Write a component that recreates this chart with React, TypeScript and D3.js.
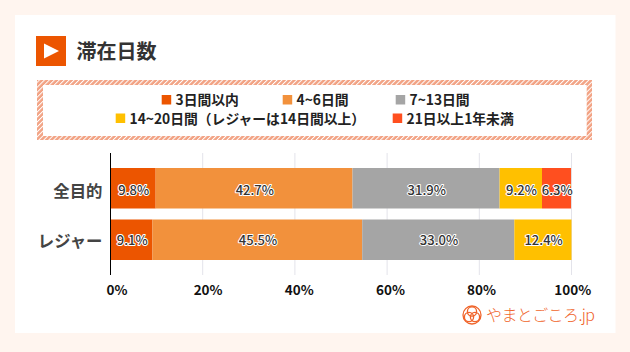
import React from "react";
import * as d3 from "d3";

const categories = ["全目的", "レジャー"];
const seriesNames = ["3日間以内", "4~6日間", "7~13日間", "14~20日間（レジャーは14日間以上）", "21日以上1年未満"];
const seriesColors = ["#ec5500", "#f2913c", "#a5a5a5", "#ffc000", "#ff4f1f"];
const allPurpose = [9.8, 42.7, 31.9, 9.2, 6.3];
const leisure = [9.1, 45.5, 33.0, 12.4, 0];
const rows = [allPurpose, leisure];
const ticks = [0, 20, 40, 60, 80, 100];
const FONT = "'Noto Sans CJK JP', 'Noto Sans', sans-serif";

export default function App() {
  const x = d3.scaleLinear().domain([0, 100]).range([110.5, 571.5]);
  const xLabel = d3.scaleLinear().domain([0, 100]).range([117, 572.7]);
  const y = d3.scaleBand().domain(categories).range([168, 260]).paddingInner(0.2136).paddingOuter(0);
  const yLabel = d3.scalePoint().domain(categories).range([190, 240]);
  const stack = d3.stack<number[]>().keys(d3.range(5).map(String)).value((d, k) => d[+k]);
  const stacked = stack(rows);
  const legend = [
    { i: 0, sx: 161.7, ty: 100 },
    { i: 1, sx: 282.7, ty: 100 },
    { i: 2, sx: 395.7, ty: 100 },
    { i: 3, sx: 115.7, ty: 118.5 },
    { i: 4, sx: 392.7, ty: 118.5 },
  ];
  return (
    <svg width={630} height={352} style={{ position: "absolute", left: 0, top: 0, display: "block" }} fontFamily={FONT}>
      <defs>
        <pattern id="hatch" width={3.5} height={3.5} patternUnits="userSpaceOnUse" patternTransform="rotate(45)">
          <rect width={3.5} height={3.5} fill="#f2a283" />
          <rect width={1} height={3.5} fill="#fff" />
        </pattern>
      </defs>
      <rect width={630} height={352} fill="#fff5ef" />
      <rect x={15} y={15} width={600.5} height={318} fill="#fff" />
      <rect x={36} y={36} width={30} height={30} fill="#ec5500" />
      <path d="M44,43.5 L59,51 L44,58.5 Z" fill="#fff" />
      <text x={76.5} y={58.5} fontSize={20} fontWeight={700} fill="#333">滞在日数</text>

      <rect x={37} y={80} width={555} height={60} fill="url(#hatch)" />
      <rect x={43} y={85} width={543.7} height={51} fill="#fff" />
      {legend.map(({ i, sx, ty }) => (
        <g key={i}>
          <rect x={sx} y={ty - 5} width={9.5} height={9.5} fill={seriesColors[i]} />
          <text x={sx + 13.8} y={ty + 5} fontSize={13.8} fontWeight={700} fill="#222">{seriesNames[i]}</text>
        </g>
      ))}

      {ticks.slice(1).map((t) => (
        <line key={t} x1={x(t)} x2={x(t)} y1={153} y2={275} stroke="#e3e3ea" strokeWidth={1} />
      ))}
      {stacked.map((s, i) =>
        s.map((d, j) =>
          d[1] > d[0] ? (
            <rect key={j} x={x(d[0])} y={y(categories[j])!} width={x(d[1]) - x(d[0])} height={y.bandwidth()} fill={seriesColors[i]} />
          ) : null
        )
      )}
      <line x1={110.5} x2={110.5} y1={153} y2={275} stroke="#000" strokeWidth={1} />
      {stacked.map((s, i) =>
        s.map((d, j) =>
          d[1] > d[0] ? (
            <text
              key={j}
              x={(x(d[0]) + x(d[1])) / 2 + 0.7}
              y={yLabel(categories[j])! + 4.7}
              textAnchor="middle"
              fontSize={13}
              fontWeight={500}
              fill="#333"
              stroke="#fff"
              strokeWidth={2}
              strokeLinejoin="round"
              style={{ paintOrder: "stroke" }}
            >
              {(d[1] - d[0]).toFixed(1) + "%"}
            </text>
          ) : null
        )
      )}
      {categories.map((c) => (
        <text key={c} x={102.5} y={yLabel(c)! + 7} textAnchor="end" fontSize={16.4} fontWeight={700} fill="#444">{c}</text>
      ))}
      {ticks.map((t) => (
        <text key={t} x={xLabel(t)} y={294.5} textAnchor="middle" fontSize={13.5} fontWeight={700} fill="#111">{t}%</text>
      ))}

      <g fill="none" stroke="#f0642a" strokeWidth={1.3}>
        <circle cx={472} cy={315} r={9} />
        <circle cx={472} cy={311.5} r={4.6} />
        <circle cx={469} cy={317} r={4.6} />
        <circle cx={475} cy={317} r={4.6} />
      </g>
      <text x={486} y={320.5} fontSize={16} fontWeight={300} fill="#f0642a" textLength={109}>やまとごころ.jp</text>
    </svg>
  );
}
